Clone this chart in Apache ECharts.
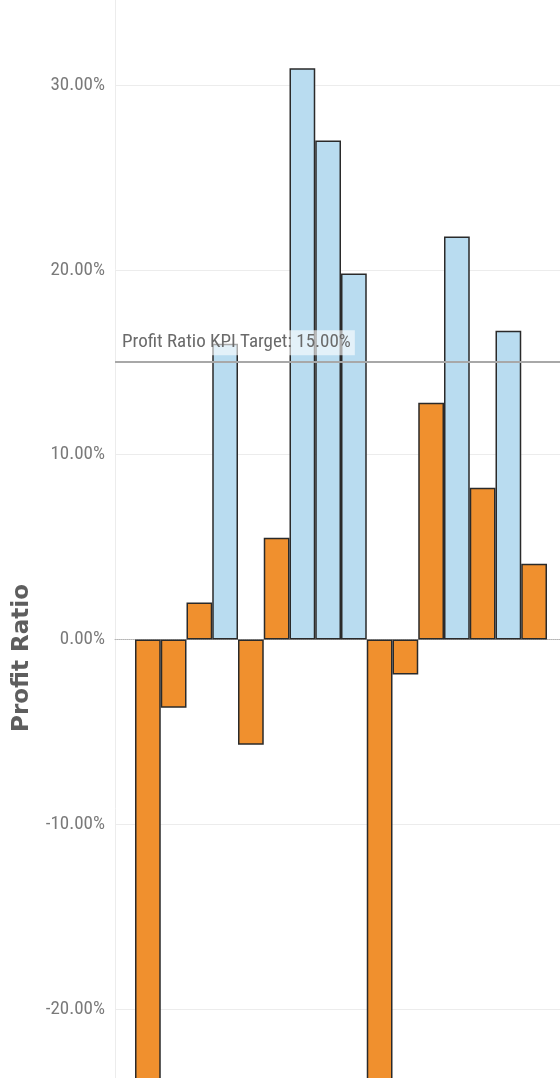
<!DOCTYPE html>
<html>
<head>
<meta charset="utf-8">
<script src="https://cdn.jsdelivr.net/npm/echarts@6/dist/echarts.min.js"></script>
<style>
html, body { margin: 0; padding: 0; background: #fff; }
#chart { width: 560px; height: 1078px; }
</style>
</head>
<body>
<div id="chart"></div>
<script>
var categories = ['1', '2', '3', '4', '5', '6', '7', '8', '9', '10', '11', '12', '13', '14', '15', '16'];
var profitRatio = [-28.5, -3.7, 2.0, 16.0, -5.7, 5.5, 30.9, 27.0, 19.8, -27.0, -1.9, 12.8, 21.8, 8.2, 16.7, 4.1];
var kpiTarget = 15;
var yMin = -20, yMax = 30, yStep = 10;

var blue = '#b9dcf0', orange = '#f0902e';
var narrow = '"Liberation Sans Narrow", "Roboto Condensed", Roboto, sans-serif';

var chart = echarts.init(document.getElementById('chart'));

option = {
    animation: false,
    grid: [
        {left: 115, right: 0, top: 85, bottom: 69},
        {left: 135, right: 13, top: 85, bottom: 69},
        {left: 115, right: 0, top: 0, bottom: 0}
    ],
    xAxis: [
        {
            gridIndex: 0,
            type: 'category',
            data: [''],
            axisLine: {show: true, onZero: true, lineStyle: {color: '#b5b5b5', type: 'dotted', width: 1}},
            axisTick: {show: false},
            axisLabel: {show: false}
        },
        {
            gridIndex: 1,
            type: 'category',
            data: categories,
            axisLine: {show: false},
            axisTick: {show: false},
            axisLabel: {show: false}
        },
        {
            gridIndex: 2,
            type: 'category',
            data: [''],
            axisLine: {show: false},
            axisTick: {show: false},
            axisLabel: {show: false}
        }
    ],
    yAxis: [
        {
            gridIndex: 0,
            type: 'value',
            min: yMin,
            max: yMax,
            interval: yStep,
            axisLine: {show: false},
            axisTick: {show: false},
            splitLine: {lineStyle: {color: '#ececec', width: 1}},
            axisLabel: {
                margin: 10,
                color: '#7a7a7a',
                fontFamily: narrow,
                fontSize: 19,
                formatter: function (v) { return v.toFixed(2) + '%'; }
            }
        },
        {
            gridIndex: 1,
            type: 'value',
            min: yMin,
            max: yMax,
            interval: yStep,
            axisLine: {show: false},
            axisTick: {show: false},
            axisLabel: {show: false},
            splitLine: {show: false}
        },
        {
            gridIndex: 2,
            type: 'value',
            min: 0,
            max: 1,
            axisLine: {show: true, lineStyle: {color: '#ececec'}},
            axisTick: {show: false},
            axisLabel: {show: false},
            splitLine: {show: false}
        }
    ],
    graphic: [{
        type: 'text',
        x: 22,
        y: 658,
        rotation: Math.PI / 2,
        style: {
            text: 'Profit Ratio',
            fill: '#5e5e5e',
            font: 'bold 23px "DejaVu Sans"',
            align: 'center',
            verticalAlign: 'middle'
        }
    }],
    series: [
        {
            type: 'bar',
            xAxisIndex: 1,
            yAxisIndex: 1,
            data: profitRatio,
            barWidth: '100%',
            barGap: 0,
            clip: false,
            z: 2,
            itemStyle: {
                color: function (p) { return p.value >= kpiTarget ? blue : orange; },
                borderColor: '#2a2a2a',
                borderWidth: 1.5
            }
        },
        {
            type: 'line',
            xAxisIndex: 0,
            yAxisIndex: 0,
            data: [],
            z: 5,
            markLine: {
                silent: true,
                symbol: 'none',
                lineStyle: {color: '#a8a8a8', width: 2, type: 'solid'},
                label: {
                    position: 'insideStartTop',
                    formatter: 'Profit Ratio KPI Target: ' + kpiTarget.toFixed(2) + '%',
                    color: '#6a6a6a',
                    fontFamily: narrow,
                    fontSize: 19,
                    backgroundColor: 'rgba(255,255,255,0.6)',
                    padding: [3, 4, 3, 4],
                    distance: [3, 7]
                },
                data: [{yAxis: kpiTarget}]
            }
        }
    ]
};

chart.setOption(option);

window.onresize = function () {
    chart.resize();
};
</script>
</body>
</html>
